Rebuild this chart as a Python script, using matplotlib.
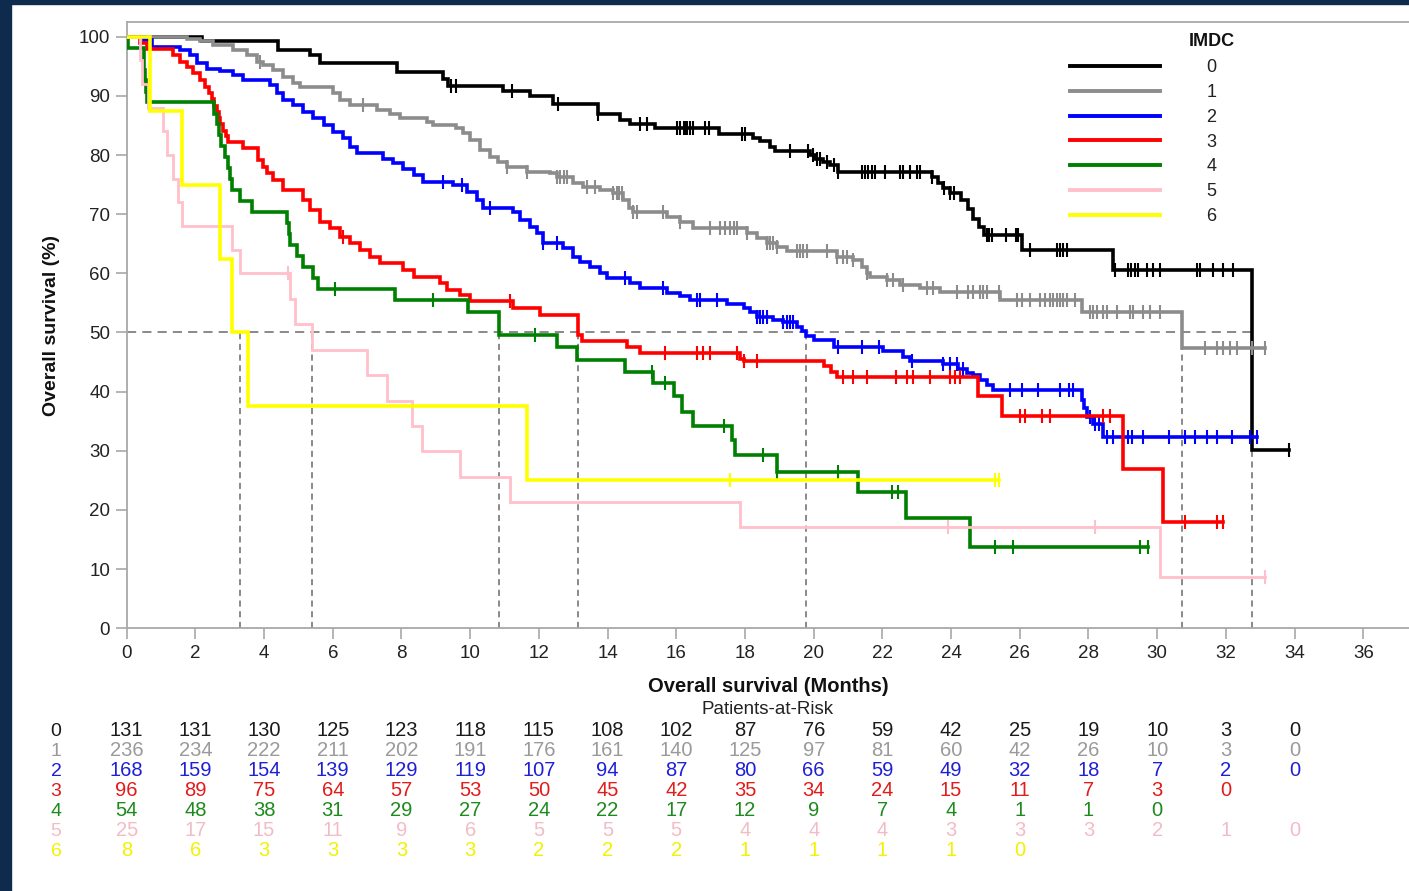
import numpy as np
import matplotlib
matplotlib.use("Agg")
import matplotlib.pyplot as plt
from matplotlib.lines import Line2D
from matplotlib.patches import Rectangle

plt.rcParams['font.family'] = ['Liberation Sans', 'DejaVu Sans']

# ---------------- data ----------------
groups = ['0', '1', '2', '3', '4', '5', '6']
line_colors = ['#000000', '#8c8c8c', '#0000ff', '#ff0000', '#008000', '#ffc0cb', '#ffff00']
text_colors = ['#1a1a1a', '#9a9a9a', '#1f1fd6', '#e21b1b', '#1d8a1d', '#f2bcc6', '#f2f200']

# Kaplan-Meier step points (months, survival %) per IMDC group
t_0 = [0, 2.18, 4.40, 5.34, 5.63, 7.86, 9.20, 9.35, 10.96, 11.74, 12.42, 13.73, 14.36, 14.65,
       15.38, 17.23, 18.24, 18.44, 18.73, 18.88, 19.89, 20.04, 20.28, 20.48, 20.72, 23.43,
       23.62, 23.77, 23.97, 24.30, 24.50, 24.65, 24.80, 24.95, 26.06, 28.72, 32.75]
s_0 = [100, 99.2, 97.7, 96.9, 95.6, 94.1, 92.8, 91.7, 90.9, 89.9, 88.6, 87.0, 86.0, 85.3,
       84.6, 83.5, 82.8, 82.3, 81.4, 80.6, 80.0, 79.4, 78.9, 78.3, 77.2, 76.3,
       75.3, 74.4, 73.5, 72.4, 70.9, 69.2, 67.9, 66.5, 64.0, 60.5, 30.1]
cens_0 = [9.45, 9.60, 11.21, 12.57, 13.73, 14.95, 15.14, 16.01, 16.11, 16.21, 16.26, 16.30,
          16.40, 16.50, 16.84, 16.94, 17.90, 18.00, 19.31, 19.84, 19.99, 20.09, 20.19, 20.38,
          20.58, 20.72, 21.40, 21.50, 21.59, 21.69, 21.79, 22.08, 22.51, 22.60, 22.80, 23.00,
          23.09, 23.44, 23.78, 23.97, 24.07, 25.04, 25.10, 25.20, 25.60, 25.90, 25.96, 26.30,
          27.08, 27.17, 27.27, 27.37, 28.77, 29.16, 29.25, 29.35, 29.45, 29.69, 29.89, 30.08,
          31.15, 31.25, 31.63, 31.93, 32.22, 33.85]

t_1 = [0, 1.75, 2.13, 2.52, 3.10, 3.49, 3.78, 3.98, 4.27, 4.56, 4.85, 5.05, 6.02, 6.21, 6.50,
       7.28, 7.67, 7.96, 8.73, 8.93, 9.60, 9.80, 10.00, 10.29, 10.58, 10.82, 11.06, 11.65,
       12.33, 12.52, 12.99, 13.29, 13.78, 14.17, 14.46, 14.61, 14.75, 15.72, 16.11, 16.50,
       18.05, 18.34, 18.63, 18.92, 19.21, 20.67, 21.15, 21.40, 21.54, 21.64, 22.12, 22.51,
       23.09, 23.68, 25.42, 27.80, 30.71]
s_1 = [100, 99.6, 99.2, 98.6, 97.7, 96.9, 95.8, 95.2, 94.4, 93.2, 92.1, 91.5, 90.4, 89.3, 88.5,
       87.6, 87.0, 86.2, 85.5, 85.1, 84.5, 83.7, 82.5, 80.8, 79.7, 78.9, 78.0, 77.2,
       76.9, 76.3, 75.2, 74.6, 74.1, 73.5, 72.4, 71.0, 70.4, 69.6, 68.7, 67.6,
       66.8, 65.9, 65.2, 64.5, 63.7, 62.8, 62.3, 61.1, 60.0, 59.4, 58.9, 58.0,
       57.5, 56.8, 55.5, 53.5, 47.3]
cens_1 = [3.88, 6.89, 11.06, 11.65, 12.52, 12.62, 12.72, 12.81, 13.39, 13.64, 14.17, 14.27,
          14.32, 14.41, 14.75, 14.85, 15.62, 16.11, 16.99, 17.28, 17.42, 17.57, 17.67, 17.76,
          18.05, 18.63, 18.73, 18.82, 18.92, 19.51, 19.60, 19.70, 19.80, 20.38, 20.67, 20.86,
          20.96, 21.15, 21.54, 22.12, 22.32, 22.61, 23.29, 23.48, 24.16, 24.50, 24.65, 24.84,
          24.94, 25.04, 25.38, 25.91, 26.05, 26.30, 26.59, 26.74, 26.88, 26.98, 27.08, 27.17,
          27.27, 27.37, 27.60, 28.04, 28.14, 28.24, 28.43, 28.53, 28.82, 29.21, 29.31, 29.60,
          29.79, 30.08, 31.39, 31.73, 31.92, 32.12, 32.31, 32.75, 33.15]

t_2 = [0, 0.50, 0.75, 1.55, 1.84, 2.04, 2.33, 2.72, 3.10, 3.40, 4.17, 4.37, 4.56, 4.85, 5.14,
       5.43, 5.73, 6.02, 6.31, 6.50, 6.70, 7.47, 7.76, 8.05, 8.35, 8.64, 9.51, 9.90, 10.19,
       10.38, 11.26, 11.45, 11.74, 11.94, 12.13, 12.71, 13.00, 13.20, 13.49, 13.78, 13.97,
       14.65, 14.95, 15.72, 16.11, 16.40, 17.47, 17.96, 18.15, 18.34, 18.82, 19.11, 19.50,
       19.65, 19.78, 20.00, 20.58, 22.03, 22.61, 22.80, 23.77, 24.20, 24.45, 24.65, 24.84,
       25.04, 25.23, 27.80, 27.88, 27.95, 28.14, 28.43]
s_2 = [100, 99.4, 98.2, 97.7, 96.9, 95.5, 94.6, 94.2, 93.5, 92.7, 91.8, 90.4, 89.3, 88.5, 87.3,
       86.2, 85.1, 83.9, 82.8, 81.4, 80.3, 79.4, 78.6, 77.7, 76.6, 75.5, 74.9, 73.8, 72.4,
       71.0, 70.4, 69.0, 67.9, 66.8, 65.1, 64.2, 62.8, 62.0, 61.1, 60.0, 59.2,
       58.3, 57.5, 56.6, 56.1, 55.5, 54.9, 54.1, 53.5, 52.7, 52.1, 51.8, 51.0,
       50.3, 49.4, 48.8, 47.6, 46.8, 45.9, 45.1, 44.6, 43.9, 43.2, 42.8, 42.0,
       41.1, 40.3, 38.6, 37.2, 35.8, 34.6, 32.4]
cens_2 = [9.22, 9.75, 10.58, 12.13, 12.52, 14.51, 15.62, 16.60, 16.70, 17.18, 18.34, 18.44,
          18.53, 18.63, 19.11, 19.21, 19.31, 19.40, 20.72, 21.40, 21.89, 22.85, 23.77, 23.97,
          24.16, 24.36, 25.72, 26.06, 26.54, 27.17, 27.42, 27.56, 28.04, 28.19, 28.30, 28.53,
          28.72, 29.16, 29.26, 29.60, 30.33, 30.81, 31.10, 31.44, 31.73, 32.17, 32.70, 32.90]

t_3 = [0, 0.40, 0.60, 1.36, 1.55, 1.75, 1.94, 2.13, 2.28, 2.40, 2.47, 2.55, 2.62, 2.68, 2.72,
       2.81, 2.88, 2.96, 3.40, 3.83, 3.98, 4.08, 4.27, 4.56, 5.14, 5.34, 5.63, 5.92, 6.21,
       6.50, 6.79, 7.08, 7.38, 8.05, 8.35, 9.12, 9.32, 9.70, 10.00, 11.26, 12.03, 13.14,
       13.25, 14.56, 14.95, 17.86, 17.96, 20.30, 20.50, 20.67, 24.79, 25.47, 29.01, 30.18]
s_3 = [100, 99.0, 97.9, 96.9, 95.8, 94.8, 93.8, 92.7, 91.5, 90.4, 89.4, 88.3, 87.2, 86.2, 85.2,
       84.1, 83.2, 82.2, 81.2, 79.2, 78.0, 76.9, 75.8, 74.1, 72.4, 70.7, 68.7, 67.6, 66.2,
       65.1, 63.9, 62.8, 61.7, 60.6, 59.4, 58.3, 57.2, 56.3, 55.3, 54.1, 53.0, 49.6,
       48.5, 47.6, 46.5, 45.6, 45.2, 44.3, 43.4, 42.5, 39.2, 35.9, 27.0, 17.9]
cens_3 = [6.31, 11.16, 15.67, 16.60, 16.79, 16.98, 17.76, 17.96, 18.34, 20.86, 21.15, 21.54,
          22.41, 22.71, 22.90, 23.39, 23.97, 24.10, 24.26, 26.00, 26.15, 26.64, 26.88, 28.43,
          28.62, 30.81, 31.73, 31.93]

t_4 = [0, 0.05, 0.49, 0.52, 0.55, 0.58, 2.55, 2.62, 2.68, 2.75, 2.85, 2.95, 3.00, 3.06, 3.30,
       3.64, 4.66, 4.72, 4.75, 4.95, 5.14, 5.43, 5.58, 7.81, 9.95, 10.84, 12.52, 13.10,
       14.51, 15.33, 15.92, 16.16, 16.50, 17.61, 17.71, 18.92, 21.30, 22.70, 24.55]
s_4 = [100, 98.1, 94.4, 92.6, 90.7, 88.9, 87.0, 85.2, 83.3, 81.5, 79.6, 77.8, 75.9, 74.1, 72.2,
       70.4, 68.5, 66.6, 64.8, 62.9, 61.1, 59.2, 57.4, 55.5, 53.5, 49.6, 47.6, 45.4,
       43.4, 41.4, 39.2, 36.6, 34.2, 31.8, 29.3, 26.5, 23.1, 18.6, 13.8]
cens_4 = [6.07, 8.93, 11.89, 15.29, 15.67, 17.40, 18.53, 18.92, 20.72, 22.27, 22.46, 25.28,
          25.81, 29.50, 29.74]

t_5 = [0, 0.40, 0.45, 0.63, 1.07, 1.16, 1.36, 1.50, 1.60, 3.06, 3.30, 4.75, 4.90, 5.39, 6.99,
       7.57, 8.30, 8.59, 9.70, 11.16, 17.86, 30.08]
s_5 = [100, 96, 92, 88, 84, 80, 76, 72, 68, 64, 60, 55.7, 51.4, 47.1, 42.8,
       38.5, 34.2, 29.9, 25.6, 21.4, 17.1, 8.6]
cens_5 = [4.71, 23.92, 28.19, 33.14]

t_6 = [0, 0.68, 1.60, 2.72, 3.06, 3.54, 11.64]
s_6 = [100, 87.5, 75, 62.5, 50, 37.5, 25]
cens_6 = [17.56, 25.28, 25.38]

times = [t_0, t_1, t_2, t_3, t_4, t_5, t_6]
survs = [s_0, s_1, s_2, s_3, s_4, s_5, s_6]
censors = [cens_0, cens_1, cens_2, cens_3, cens_4, cens_5, cens_6]

# patients at risk every 2 months
risk_months = [0, 2, 4, 6, 8, 10, 12, 14, 16, 18, 20, 22, 24, 26, 28, 30, 32, 34]
risk_0 = [131, 131, 130, 125, 123, 118, 115, 108, 102, 87, 76, 59, 42, 25, 19, 10, 3, 0]
risk_1 = [236, 234, 222, 211, 202, 191, 176, 161, 140, 125, 97, 81, 60, 42, 26, 10, 3, 0]
risk_2 = [168, 159, 154, 139, 129, 119, 107, 94, 87, 80, 66, 59, 49, 32, 18, 7, 2, 0]
risk_3 = [96, 89, 75, 64, 57, 53, 50, 45, 42, 35, 34, 24, 15, 11, 7, 3, 0]
risk_4 = [54, 48, 38, 31, 29, 27, 24, 22, 17, 12, 9, 7, 4, 1, 1, 0]
risk_5 = [25, 17, 15, 11, 9, 6, 5, 5, 5, 4, 4, 4, 3, 3, 3, 2, 1, 0]
risk_6 = [8, 6, 3, 3, 3, 3, 2, 2, 2, 1, 1, 1, 1, 0]
risks = [risk_0, risk_1, risk_2, risk_3, risk_4, risk_5, risk_6]

x_ticks = list(range(0, 37, 2))
y_ticks = list(range(0, 101, 10))

# ---------------- figure ----------------
W, H = 1409, 891
fig = plt.figure(figsize=(W / 100, H / 100), dpi=100)
fig.patch.set_facecolor('white')

def fx(px):
    return px / W

def fy(py):
    return 1 - py / H

ax = fig.add_axes([fx(126.7), fy(628.3), fx(W - 126.7), (628.3 - 21.7) / H])
ax.set_xlim(0, (W - 126.7) / 34.35)
ax.set_ylim(0, (628.3 - 21.7) / 5.916)

spine_col = '#a8a8a8'
for side in ['left', 'bottom', 'top']:
    ax.spines[side].set_color(spine_col)
    ax.spines[side].set_linewidth(1.3)
ax.spines['right'].set_visible(False)
ax.set_xticks(x_ticks)
ax.set_yticks(y_ticks)
ax.tick_params(axis='both', length=8, width=1.2, color=spine_col, labelsize=13.5,
               labelcolor='#222222', pad=4)


def step_value(t, s, x):
    idx = np.searchsorted(np.asarray(t), x, side='right') - 1
    return np.asarray(s)[idx]


def median_time(t, s):
    t = np.asarray(t)
    s = np.asarray(s)
    idx = np.where(s <= 50)[0]
    if len(idx) == 0:
        return None
    i = idx[0]
    if np.isclose(s[i], 50) and i + 1 < len(t):
        return 0.5 * (t[i] + t[i + 1])
    return t[i]


# median reference lines
medians = [median_time(t, s) for t, s in zip(times, survs)]
medians = [m for m in medians if m is not None]
ref_col = '#6a6a6a'
ax.plot([0, max(medians)], [50, 50], color=ref_col, lw=1.1, dashes=(6, 4), zorder=1)
for m in medians:
    ax.plot([m, m], [0, 50], color=ref_col, lw=1.1, dashes=(4, 3), zorder=1)

# survival curves with censor marks
widths = [2.6, 2.6, 2.6, 2.6, 2.6, 2.0, 2.6]
handles = []
for i, (t, s, c) in enumerate(zip(times, survs, censors)):
    end = max(c[-1], t[-1])
    tt = list(t) + [end]
    ss = list(s) + [s[-1]]
    ax.step(tt, ss, where='post', color=line_colors[i], lw=widths[i],
            zorder=3 + i, solid_joinstyle='miter')
    cy = step_value(t, s, np.asarray(c))
    ax.plot(c, cy, linestyle='none', marker='|', markersize=10, mew=1.5,
            color=line_colors[i], zorder=3 + i)
    handles.append(Line2D([0], [0], color=line_colors[i], lw=2.8))

leg = ax.legend(handles, groups, loc='upper left', bbox_to_anchor=(0.7357, 0.938),
                frameon=False, fontsize=13, handlelength=5.0, handletextpad=2.55,
                labelspacing=0.43, borderpad=0, borderaxespad=0)
for txt in leg.get_texts():
    txt.set_color('#222222')
fig.text(fx(1212), fy(42), 'IMDC', fontsize=13, fontweight='bold', ha='center',
         va='center', color='#111111')

# axis titles
fig.text(fx(52), fy(325), 'Overall survival (%)', rotation=90, fontsize=14,
         fontweight='bold', ha='center', va='center', color='#111111')
fig.text(fx(768), fy(686), 'Overall survival (Months)', fontsize=14.5,
         fontweight='bold', ha='center', va='center', color='#111111')
fig.text(fx(768), fy(710), 'Patients-at-Risk', fontsize=13.5, ha='center',
         va='center', color='#222222')

# patients-at-risk table
row_y = [731, 751, 771, 791, 811, 831, 851]
xform = ax.get_xaxis_transform()
for i, row in enumerate(risks):
    yax = (628.3 - row_y[i]) / (628.3 - 21.7)
    fig.text(fx(56), fy(row_y[i]), groups[i], fontsize=14, ha='center', va='center',
             color=text_colors[i])
    for m, n in zip(risk_months, row):
        ax.text(m, yax, str(n), transform=xform, fontsize=14.5, ha='center', va='center',
                color=text_colors[i], clip_on=False)

# dark frame strips
fig.patches.append(Rectangle((0, 0), fx(11), 1, transform=fig.transFigure,
                             color='#0e2a4c', zorder=-1))
fig.patches.append(Rectangle((0, fy(4)), 1, 4 / H, transform=fig.transFigure,
                             color='#0e2a4c', zorder=-1))

fig.savefig('out.png', dpi=100, facecolor='white')
